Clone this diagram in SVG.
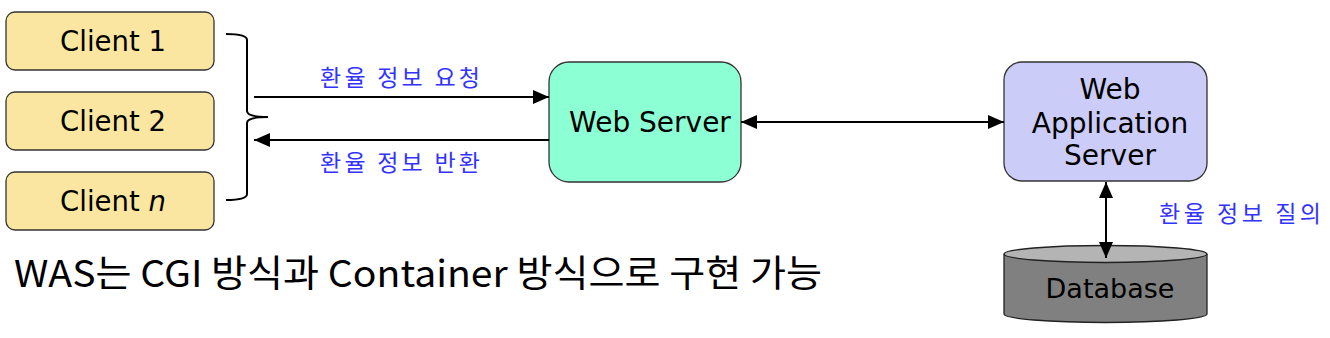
<svg xmlns="http://www.w3.org/2000/svg" width="1330" height="338" viewBox="0 0 1330 338">
<defs>
<style>
.lbl{font-family:"DejaVu Sans","Noto Sans CJK KR",sans-serif;fill:#000;text-anchor:middle}
.ko{font-family:"Noto Sans CJK KR","DejaVu Sans",sans-serif;fill:#3333ff;font-size:23px}
.client{fill:#fae6a0;stroke:#333;stroke-width:1.3}
.line{stroke:#000;stroke-width:2;fill:none}
</style>
<marker id="ah" viewBox="0 0 16 14" refX="16" refY="7" markerWidth="16" markerHeight="14" markerUnits="userSpaceOnUse" orient="auto-start-reverse">
<path d="M0,0 L16,7 L0,14 Z" fill="#000"/>
</marker>
</defs>
<rect width="1330" height="338" fill="#fff"/>
<g id="client1"><rect class="client" x="6" y="12" width="208" height="58" rx="9"/><text class="lbl" x="113" y="51" font-size="27.5">Client 1</text></g>
<g id="client2"><rect class="client" x="6" y="92" width="208" height="58" rx="9"/><text class="lbl" x="113" y="131" font-size="27.5">Client 2</text></g>
<g id="clientn"><rect class="client" x="6" y="172" width="208" height="58" rx="9"/><text class="lbl" x="113" y="211" font-size="27.5">Client <tspan font-style="italic">n</tspan></text></g>
<g id="webserver"><rect x="549" y="62" width="192" height="120" rx="20" fill="#8cffd4" stroke="#333" stroke-width="1.3"/><text class="lbl" x="650" y="132" font-size="28">Web Server</text></g>
<g id="was"><rect x="1004" y="62" width="203" height="119" rx="18" fill="#ccccf8" stroke="#333" stroke-width="1.3"/><text class="lbl" font-size="28"><tspan x="1110" y="99">Web</tspan><tspan x="1110" y="133">Application</tspan><tspan x="1110" y="165">Server</tspan></text></g>
<g id="database">
<path d="M1004,254 V314 A101.5,8.5 0 0 0 1207,314 V254" fill="#808080" stroke="#222" stroke-width="1.3"/>
<ellipse cx="1105.5" cy="254" rx="101.5" ry="8.5" fill="#b4b4b4" stroke="#222" stroke-width="1.3"/>
<text class="lbl" x="1110" y="298" font-size="27">Database</text>
</g>
<g id="connectors">
<path class="line" d="M226,34 Q247,34 247,40 V111 Q247,117 268,117 Q247,117 247,123 V194 Q247,200 226,200" stroke-width="1.5"/>
<line class="line" x1="254" y1="97" x2="549" y2="97" marker-end="url(#ah)"/>
<line class="line" x1="549" y1="140" x2="254" y2="140" marker-end="url(#ah)"/>
<line class="line" x1="741" y1="122" x2="1004" y2="122" marker-start="url(#ah)" marker-end="url(#ah)"/>
<line class="line" x1="1106" y1="182" x2="1106" y2="258" marker-start="url(#ah)" marker-end="url(#ah)"/>
</g>
<g id="labels">
<text class="ko" x="320" y="86" textLength="160" lengthAdjust="spacing">환율 정보 요청</text>
<text class="ko" x="320" y="171" textLength="160" lengthAdjust="spacing">환율 정보 반환</text>
<text class="ko" x="1159" y="222" textLength="162" lengthAdjust="spacing">환율 정보 질의</text>
<text x="14" y="287" font-family="Noto Sans CJK KR,DejaVu Sans,sans-serif" font-size="37" fill="#000" textLength="808" lengthAdjust="spacingAndGlyphs">WAS는 CGI 방식과 Container 방식으로 구현 가능</text>
</g>
</svg>
